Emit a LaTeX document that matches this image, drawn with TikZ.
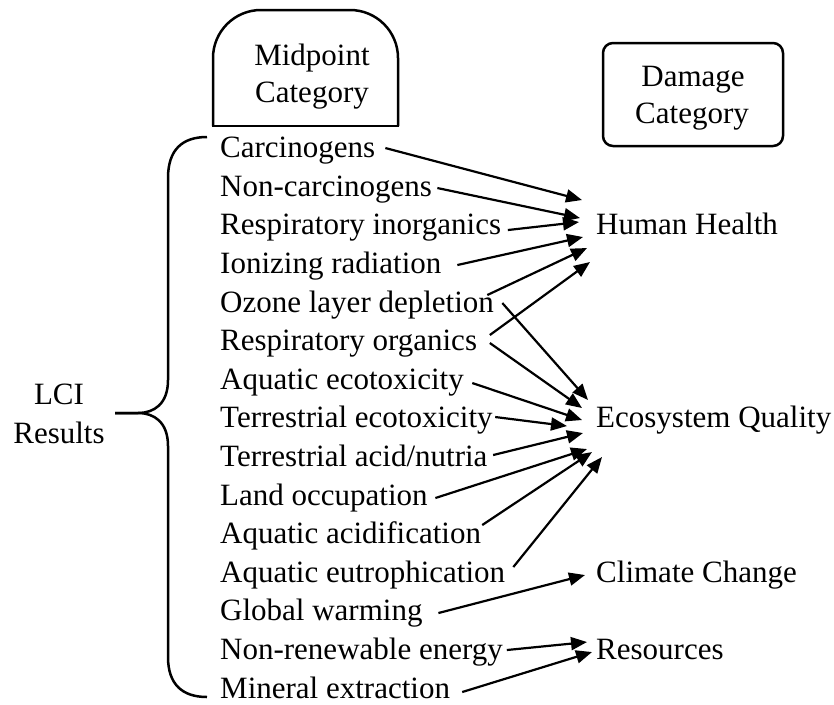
\documentclass[tikz,border=0pt]{standalone}
\usepackage{fontspec}
\setmainfont{Liberation Serif}
\usetikzlibrary{arrows.meta}
\begin{document}
\begin{tikzpicture}[x=1pt,y=-1pt,
  lbl/.style={inner sep=0pt, text height=21.7pt, text depth=7.75pt, font=\fontsize{31}{37}\selectfont, anchor=base west},
  ctr/.style={inner sep=0pt, font=\fontsize{31}{37}\selectfont, anchor=base},
  arr/.style={line width=2.2pt, -{Triangle[length=16pt,width=13pt]}},
  box/.style={line width=2.5pt}]
\useasboundingbox (0,0) rectangle (834,704);

% midpoint box
\draw[box, rounded corners=48pt] (213,126) -- (213,10) -- (398,10) -- (398,126);
\draw[box, line cap=rect] (213,126) -- (398,126);
\node[ctr] (mid1) at (312,65) {Midpoint};
\node[ctr] (mid2) at (312,102) {Category};

% damage box
\node[box, draw, rounded corners=10pt, minimum width=180pt, minimum height=103pt, inner sep=0pt] (dmgbox) at (693,94.5) {};
\node[ctr] (dmg1) at (693,86) {Damage};
\node[ctr] (dmg2) at (692,123) {Category};

% LCI
\node[ctr] (lci1) at (59,404) {LCI};
\node[ctr] (lci2) at (59,443) {Results};

% brace
\draw[box, line join=round] (207,137) .. controls (182,137) and (168,150) .. (168,178) -- (168,380) .. controls (168,404) and (154,413) .. (138,413) -- (115,413);
\draw[box, line join=round] (115,413) -- (138,413) .. controls (154,413) and (168,422) .. (168,446) -- (168,657) .. controls (168,684) and (182,697) .. (207,697);

% left labels
\node[lbl] (carc) at (220,157.6) {Carcinogens};
\node[lbl] (noncarc) at (220,196.2) {Non-carcinogens};
\node[lbl] (respin) at (220,234.8) {Respiratory inorganics};
\node[lbl] (ion) at (220,273.4) {Ionizing radiation};
\node[lbl] (ozone) at (220,312.0) {Ozone layer depletion};
\node[lbl] (resporg) at (220,350.6) {Respiratory organics};
\node[lbl] (aqeco) at (220,389.2) {Aquatic ecotoxicity};
\node[lbl] (tereco) at (220,427.8) {Terrestrial ecotoxicity};
\node[lbl] (teracid) at (220,466.4) {Terrestrial acid/nutria};
\node[lbl] (land) at (220,505.0) {Land occupation};
\node[lbl] (aqacid) at (220,543.6) {Aquatic acidification};
\node[lbl] (aqeut) at (220,582.2) {Aquatic eutrophication};
\node[lbl] (glob) at (220,620.8) {Global warming};
\node[lbl] (nonren) at (220,659.4) {Non-renewable energy};
\node[lbl] (mineral) at (220,698.0) {Mineral extraction};

% right labels
\node[lbl] (hh) at (596,234.8) {Human Health};
\node[lbl] (eq) at (596,427.8) {Ecosystem Quality};
\node[lbl] (cc) at (596,582.2) {Climate Change};
\node[lbl] (res) at (596,659.4) {Resources};

% arrows
\draw[arr] ([shift={(10,-2.6)}]carc.east) -- ([shift={(-14,-27.8)}]hh.west);
\draw[arr] ([shift={(5.2,-1.2)}]noncarc.east) -- ([shift={(-16,-9.8)}]hh.west);
\draw[arr] ([shift={(6.5,2.2)}]respin.east) -- ([shift={(-17,-5.8)}]hh.west);
\draw[arr] ([shift={(15.7,-1.4)}]ion.east) -- ([shift={(-13,9.2)}]hh.west);
\draw[arr] ([shift={(-6.8,-10)}]ozone.east) -- ([shift={(-9,20.2)}]hh.west);
\draw[arr] ([shift={(12.6,-8.6)}]resporg.east) -- ([shift={(-6,34.2)}]hh.west);
\draw[arr] ([shift={(8.2,-2)}]ozone.east) -- ([shift={(-8,-20.8)}]eq.west);
\draw[arr] ([shift={(12.6,-0.6)}]resporg.east) -- ([shift={(-14,-12.8)}]eq.west);
\draw[arr] ([shift={(8.3,0.8)}]aqeco.east) -- ([shift={(-14,-0.8)}]eq.west);
\draw[arr] ([shift={(2.4,-3.8)}]tereco.east) -- ([shift={(-29,5.2)}]eq.west);
\draw[arr] ([shift={(5.5,-4.4)}]teracid.east) -- ([shift={(-13,12.2)}]eq.west);
\draw[arr] ([shift={(7.5,0)}]land.east) -- ([shift={(-9,28.2)}]eq.west);
\draw[arr] ([shift={(1,-11.6)}]aqacid.east) -- ([shift={(-4,31.2)}]eq.west);
\draw[arr] ([shift={(8,-8.2)}]aqeut.east) -- ([shift={(6,36.2)}]eq.west);
\draw[arr] ([shift={(15.7,-0.8)}]glob.east) -- ([shift={(-11,-0.2)}]cc.west);
\draw[arr] ([shift={(3.8,-2.4)}]nonren.east) -- ([shift={(-9,-10.4)}]res.west);
\draw[arr] ([shift={(12,1)}]mineral.east) -- ([shift={(-4,-0.4)}]res.west);
\end{tikzpicture}
\end{document}
